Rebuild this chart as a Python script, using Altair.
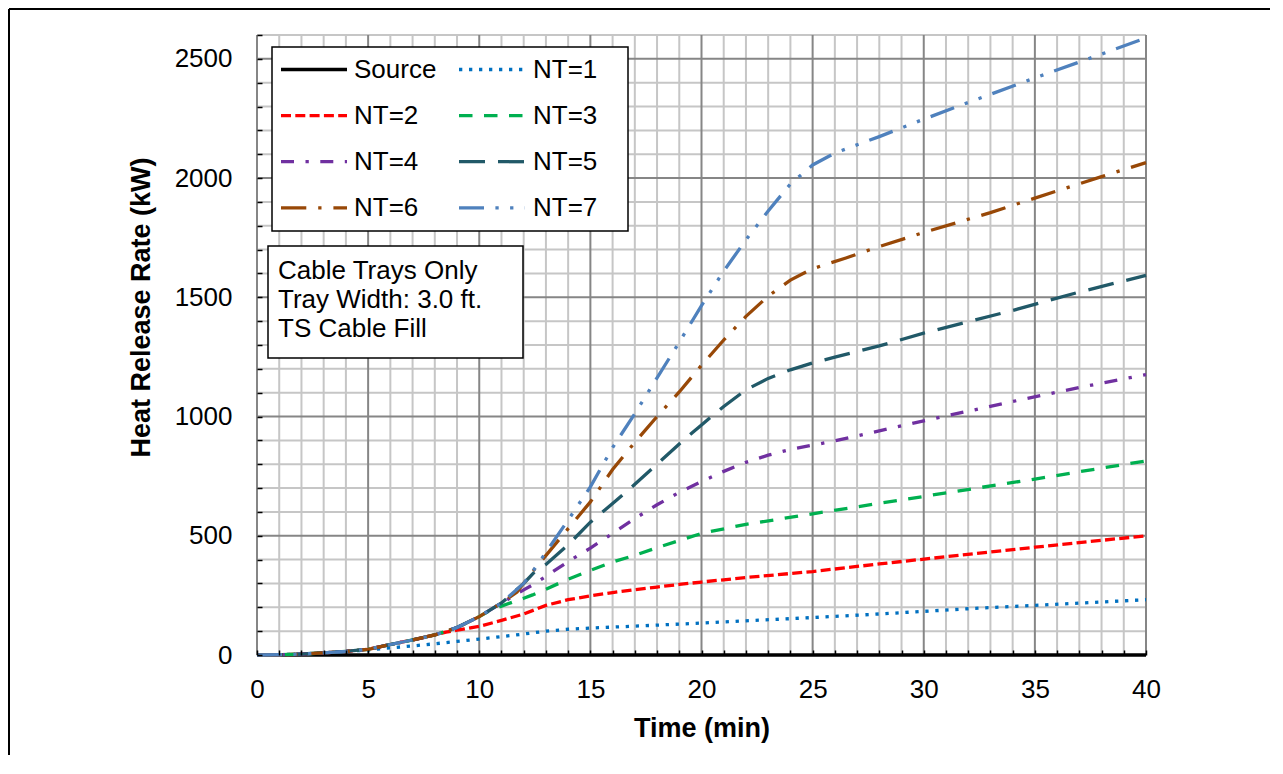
import altair as alt
import pandas as pd

FONT = "Liberation Sans"

SERIES = ["Source", "NT=1", "NT=2", "NT=3", "NT=4", "NT=5", "NT=6", "NT=7"]
COLORS = ["#000000", "#0070C0", "#FF0000", "#00B050", "#7030A0", "#215968", "#984807", "#4F81BD"]
DASHES = [[1, 0], [3.3, 6.7], [10, 4.3], [13.5, 11.5], [13, 11.5, 3.3, 11.5],
          [26, 13], [25.3, 11.9, 3.3, 11.9], [25, 11.4, 3.3, 11.4, 3.3, 11.4]]

# ---- data (time in min, heat release rate in kW) ----
src_t = [0, 40]
src_v = [0, 0]

nt1_t = [0, 1, 2, 3, 4, 5, 6, 7, 8, 9, 10, 11, 12, 13, 14, 15, 17, 20, 25, 28, 32, 35, 40]
nt1_v = [0, 1, 4, 9, 15, 21, 30, 38, 47, 57, 67, 77, 88, 100, 108, 113, 121, 134, 157, 172, 194, 208, 232]

nt2_t = [0, 1, 2, 3, 4, 5, 6, 7, 8, 8.5, 9, 10, 11, 12, 13, 14, 15, 16, 17, 18, 19, 20, 22, 25, 28, 31, 35, 40]
nt2_v = [0, 1, 4, 9, 15, 24, 44, 63, 84, 96, 104, 120, 145, 172, 208, 232, 248, 262, 274, 285, 296, 306, 325, 350, 382, 412, 452, 500]

nt3_t = [0, 1, 2, 3, 4, 5, 6, 7, 8, 9, 10, 10.5, 11, 12, 12.4, 13, 14, 15, 16, 17, 18, 19, 20, 22, 25, 28, 30, 35, 40]
nt3_v = [0, 1, 4, 9, 15, 24, 44, 63, 84, 115, 161, 188, 205, 238, 252, 276, 318, 355, 390, 418, 450, 480, 510, 548, 592, 636, 665, 738, 814]

nt4_t = [0, 1, 2, 3, 4, 5, 6, 7, 8, 9, 10, 11, 11.5, 12, 12.4, 13, 14, 15, 16, 17, 18, 19, 20, 21, 22, 23, 24, 25, 26, 28, 30, 34, 37, 40]
nt4_v = [0, 1, 4, 9, 15, 24, 44, 63, 84, 115, 161, 218, 245, 273, 294, 330, 392, 448, 510, 572, 630, 682, 727, 770, 808, 838, 862, 880, 898, 940, 982, 1063, 1122, 1176]

nt5_t = [0, 1, 2, 3, 4, 5, 6, 7, 8, 9, 10, 11, 12, 12.5, 13, 14, 15, 16, 17, 18, 19, 20, 21, 22, 23, 24, 25, 26, 28, 30, 34, 37, 40]
nt5_v = [0, 1, 4, 9, 15, 24, 44, 63, 84, 115, 161, 218, 300, 350, 380, 462, 557, 635, 716, 800, 885, 965, 1042, 1112, 1160, 1196, 1225, 1249, 1296, 1350, 1445, 1522, 1592]

nt6_t = [0, 1, 2, 3, 4, 5, 6, 7, 8, 9, 10, 11, 11.7, 12.4, 13.2, 14, 15, 16, 17, 18, 19, 20, 21, 22, 23, 24, 25, 26.5, 28, 30, 33, 35, 38, 40]
nt6_v = [0, 1, 4, 9, 15, 24, 44, 63, 84, 115, 161, 218, 264, 350, 440, 530, 642, 778, 892, 1000, 1103, 1215, 1321, 1420, 1505, 1572, 1620, 1665, 1713, 1772, 1855, 1916, 2006, 2065]

nt7_t = [0, 1, 2, 3, 4, 5, 6, 7, 8, 9, 10, 11, 12, 12.4, 13, 13.6, 14, 15, 16, 17, 18, 19, 20, 21, 22, 23, 24, 25, 26, 28, 30, 32, 35, 38, 40]
nt7_v = [0, 1, 4, 9, 15, 24, 44, 63, 84, 115, 161, 218, 300, 350, 430, 512, 566, 705, 870, 1012, 1162, 1312, 1465, 1610, 1741, 1862, 1975, 2055, 2105, 2174, 2247, 2317, 2420, 2520, 2588]

X_TICKS = list(range(0, 41))
Y_TICKS = list(range(0, 2601, 100))
NOTE_LINES = ["Cable Trays Only", "Tray Width: 3.0 ft.", "TS Cable Fill"]

series_data = [(src_t, src_v), (nt1_t, nt1_v), (nt2_t, nt2_v), (nt3_t, nt3_v),
               (nt4_t, nt4_v), (nt5_t, nt5_v), (nt6_t, nt6_v), (nt7_t, nt7_v)]

W, H = 889, 620
TXT = 26

color_scale = alt.Scale(domain=SERIES, range=COLORS)
dash_scale = alt.Scale(domain=SERIES, range=DASHES)
xs = alt.Scale(domain=[0, 40], nice=False, zero=False)
ys = alt.Scale(domain=[0, 2600], nice=False)

x_axis = alt.Axis(values=X_TICKS, labelExpr="datum.value % 5 === 0 ? datum.label : ''",
                  tickSize=5, offset=-5, domain=False, grid=False, tickColor="black", tickWidth=1.5,
                  labelFont=FONT, labelFontSize=TXT, labelColor="black", labelPadding=21,
                  labelFlush=False, labelOverlap=False, title="Time (min)", titleFont=FONT,
                  titleFontSize=27, titleFontWeight="bold", titleColor="black",
                  titleX=W / 2, titleY=78, titleBaseline="middle", titleAlign="center", zindex=1)
y_axis = alt.Axis(values=Y_TICKS, labelExpr="datum.value % 500 === 0 ? datum.label : ''", format="d",
                  tickSize=5, offset=-5, domain=False, grid=False, tickColor="black", tickWidth=1.5,
                  labelFont=FONT, labelFontSize=TXT, labelColor="black", labelPadding=25,
                  labelOverlap=False, title="Heat Release Rate (kW)", titleFont=FONT,
                  titleFontSize=27, titleFontWeight="bold", titleColor="black",
                  titleX=-121, titleY=272, titleAngle=270, titleBaseline="middle", titleAlign="center",
                  zindex=1)

X = lambda f: alt.X(f, scale=xs, axis=x_axis)
Y = lambda f: alt.Y(f, scale=ys, axis=y_axis)

# grid
gx = pd.DataFrame({"t": X_TICKS})
gx["major"] = gx["t"] % 5 == 0
gy = pd.DataFrame({"v": Y_TICKS})
gy["major"] = gy["v"] % 500 == 0

grid_x_minor = alt.Chart(gx[~gx.major]).mark_rule(color="#C6C6C6", strokeWidth=2).encode(x=X("t:Q"))
grid_y_minor = alt.Chart(gy[~gy.major]).mark_rule(color="#C6C6C6", strokeWidth=2).encode(y=Y("v:Q"))
grid_x_major = alt.Chart(gx[gx.major]).mark_rule(color="#868686", strokeWidth=2).encode(x=X("t:Q"))
grid_y_major = alt.Chart(gy[gy.major]).mark_rule(color="#868686", strokeWidth=2).encode(y=Y("v:Q"))

layers = [grid_x_minor, grid_y_minor, grid_x_major, grid_y_major]

for name, (tt, vv) in zip(SERIES, series_data):
    d = pd.DataFrame({"t": tt, "v": vv, "series": name})
    layers.append(
        alt.Chart(d).mark_line(strokeWidth=3.4 if name == "Source" else 3.3).encode(
            x=X("t:Q"),
            y=Y("v:Q"),
            color=alt.Color("series:N", scale=color_scale, legend=None),
            strokeDash=alt.StrokeDash("series:N", scale=dash_scale, legend=None),
        )
    )

# legend box (manual)
leg = pd.DataFrame({"series": SERIES})
leg["row"] = [i // 2 for i in range(len(SERIES))]
leg["col"] = [i % 2 for i in range(len(SERIES))]
leg["x0"] = 24 + leg["col"] * 178
leg["x1"] = leg["x0"] + 66
leg["lx"] = 97 + leg["col"] * 179
leg["y"] = 34.5 + leg["row"] * 46.1

legend_box = alt.Chart(pd.DataFrame({"a": [0]})).mark_rect(
    fill="white", stroke="black", strokeWidth=1.5).encode(
    x=alt.value(15), x2=alt.value(371), y=alt.value(12), y2=alt.value(196))
legend_sym = alt.Chart(leg).mark_rule(strokeWidth=3.3).encode(
    x=alt.X("x0:Q", scale=None), x2="x1:Q", y=alt.Y("y:Q", scale=None),
    color=alt.Color("series:N", scale=color_scale, legend=None),
    strokeDash=alt.StrokeDash("series:N", scale=dash_scale, legend=None))
legend_txt = alt.Chart(leg).mark_text(align="left", baseline="middle", font=FONT,
                                       fontSize=TXT, color="black").encode(
    x=alt.X("lx:Q", scale=None), y=alt.Y("y:Q", scale=None), text="series:N")

# note box
note = pd.DataFrame({"txt": NOTE_LINES, "y": [244.3, 273.3, 302.3]})
note_box = alt.Chart(pd.DataFrame({"a": [0]})).mark_rect(
    fill="white", stroke="black", strokeWidth=1.5).encode(
    x=alt.value(11), x2=alt.value(266), y=alt.value(211), y2=alt.value(323))
note_txt = alt.Chart(note).mark_text(align="left", baseline="alphabetic", font=FONT,
                                      fontSize=TXT, color="black").encode(
    x=alt.value(21), y=alt.Y("y:Q", scale=None), text="txt:N")

# outer chart border (left and top)
border_l = alt.Chart(pd.DataFrame({"a": [0]})).mark_rule(color="black", strokeWidth=2).encode(
    x=alt.value(-248), y=alt.value(-26), y2=alt.value(740))
border_t = alt.Chart(pd.DataFrame({"a": [0]})).mark_rule(color="black", strokeWidth=2).encode(
    x=alt.value(-248), x2=alt.value(1020), y=alt.value(-26))

layers += [legend_box, legend_sym, legend_txt, note_box, note_txt, border_l, border_t]

chart = alt.layer(*layers).resolve_scale(color="shared", strokeDash="shared").properties(
    width=W, height=H,
    padding={"left": 249, "top": 27, "right": 124, "bottom": 100},
    autosize=alt.AutoSizeParams(type="none"),
).configure_view(stroke="black", strokeWidth=2).configure_axis(
    labelOverlap=False).configure(background="white")

chart.save("out.html", embed_options={"renderer": "svg", "actions": False})
